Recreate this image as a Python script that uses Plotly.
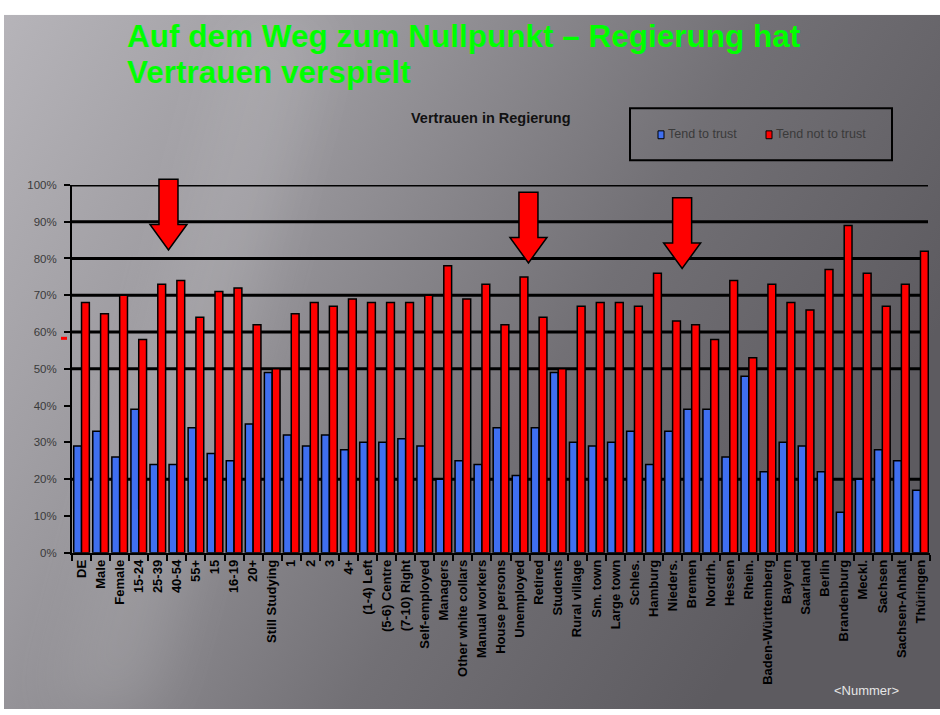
import base64
import plotly.graph_objects as go

# ---- data -----------------------------------------------------------------
CATEGORIES = [
    "DE", "Male", "Female", "15-24", "25-39", "40-54", "55+",
    "15", "16-19", "20+", "Still Studying",
    "1", "2", "3", "4+",
    "(1-4) Left", "(5-6) Centre", "(7-10) Right",
    "Self-employed", "Managers", "Other white collars", "Manual workers",
    "House persons", "Unemployed", "Retired", "Students",
    "Rural village", "Sm. town", "Large town",
    "Schles.", "Hamburg", "Nieders.", "Bremen", "Nordrh.", "Hessen", "Rhein.",
    "Baden-Württemberg", "Bayern", "Saarland", "Berlin", "Brandenburg",
    "Meckl.", "Sachsen", "Sachsen-Anhalt", "Thüringen",
]
TEND_TO_TRUST = [
    29, 33, 26, 39, 24, 24, 34,
    27, 25, 35, 49,
    32, 29, 32, 28,
    30, 30, 31,
    29, 20, 25, 24,
    34, 21, 34, 49,
    30, 29, 30,
    33, 24, 33, 39, 39, 26, 48,
    22, 30, 29, 22, 11,
    20, 28, 25, 17,
]
TEND_NOT_TO_TRUST = [
    68, 65, 70, 58, 73, 74, 64,
    71, 72, 62, 50,
    65, 68, 67, 69,
    68, 68, 68,
    70, 78, 69, 73,
    62, 75, 64, 50,
    67, 68, 68,
    67, 76, 63, 62, 58, 74, 53,
    73, 68, 66, 77, 89,
    76, 67, 73, 82,
]
SERIES = ["Tend to trust", "Tend not to trust"]
Y_TICKS = list(range(0, 101, 10))
Y_TICK_LABELS = [f"{v}%" for v in Y_TICKS]
GRID_LEVELS = [20, 50, 60, 70, 80, 90, 100]
ARROW_POSITIONS = [4.56, 23.44, 31.5]  # category index the arrows point at

TITLE_1 = "Auf dem Weg zum Nullpunkt – Regierung hat"
TITLE_2 = "Vertrauen verspielt"
CHART_TITLE = "Vertrauen in Regierung"
FOOTER = "&lt;Nummer&gt;"

# ---- page geometry (pixels) ------------------------------------------------
W, H = 940, 715
PLOT_L, PLOT_R = 72, 930
PLOT_T, PLOT_B = 182, 556
BLUE = "#3f6ff0"
RED = "#ff0000"
FONT = "Liberation Sans, Arial"


def fx(px):
    return px / W


def fy(py):
    return 1 - py / H


def cat_px(pos):
    n = len(CATEGORIES)
    return PLOT_L + (pos + 0.5) * (PLOT_R - PLOT_L) / n


# ---- slide background (grey gradient with a soft light streak) -------------
svg = (
    "<svg xmlns='http://www.w3.org/2000/svg' width='936' height='706' viewBox='0 0 936 706'>"
    "<defs>"
    "<linearGradient id='g' x1='0' y1='0' x2='1' y2='0.45'>"
    "<stop offset='0' stop-color='#b6b4b9'/>"
    "<stop offset='0.33' stop-color='#9a989d'/>"
    "<stop offset='0.68' stop-color='#727075'/>"
    "<stop offset='1' stop-color='#5d5b60'/>"
    "</linearGradient>"
    "<filter id='b' x='-50%' y='-50%' width='200%' height='200%'><feGaussianBlur stdDeviation='28'/></filter>"
    "</defs>"
    "<rect width='936' height='706' fill='url(#g)'/>"
    "<polygon points='230,0 330,0 150,706 50,706' fill='#ffffff' opacity='0.10' filter='url(#b)'/>"
    "</svg>"
)
bg_uri = "data:image/svg+xml;base64," + base64.b64encode(svg.encode()).decode()

# ---- traces ------------------------------------------------------------------
fig = go.Figure()
fig.add_trace(go.Bar(
    x=CATEGORIES, y=TEND_TO_TRUST, name=SERIES[0],
    marker=dict(color=BLUE, line=dict(color="black", width=1.5)),
    showlegend=False,
))
fig.add_trace(go.Bar(
    x=CATEGORIES, y=TEND_NOT_TO_TRUST, name=SERIES[1],
    marker=dict(color=RED, line=dict(color="black", width=1.5)),
    showlegend=False,
))

shapes = []
# horizontal rules behind the bars
for lvl in GRID_LEVELS:
    shapes.append(dict(type="line", xref="paper", yref="y",
                       x0=fx(PLOT_L), x1=fx(PLOT_R - 2), y0=lvl, y1=lvl,
                       line=dict(color="black", width=3), layer="below"))

# down arrows
for pos in ARROW_POSITIONS:
    c = cat_px(pos)
    top = PLOT_T - 9 + (pos / 31.5) * 22
    head = top + 46
    tip = head + 26
    sw, hw = 9.5, 18.5
    pts = [(c - sw, top), (c + sw, top), (c + sw, head), (c + hw, head),
           (c, tip), (c - hw, head), (c - sw, head)]
    path = "M " + " L ".join(f"{fx(x):.5f},{fy(y):.5f}" for x, y in pts) + " Z"
    shapes.append(dict(type="path", xref="paper", yref="paper", path=path,
                       fillcolor=RED, line=dict(color="black", width=1.5),
                       layer="above"))

# small red mark beside the value axis
shapes.append(dict(type="line", xref="paper", yref="paper",
                   x0=fx(61), x1=fx(67), y0=fy(338), y1=fy(338),
                   line=dict(color=RED, width=3)))

# legend frame and swatches
shapes.append(dict(type="rect", xref="paper", yref="paper",
                   x0=fx(630), x1=fx(892), y0=fy(104), y1=fy(157),
                   line=dict(color="black", width=2), fillcolor="rgba(0,0,0,0)"))
legend_items = [(SERIES[0], BLUE, 658), (SERIES[1], RED, 766)]
annotations = []
for name, color, x0 in legend_items:
    shapes.append(dict(type="rect", xref="paper", yref="paper",
                       x0=fx(x0), x1=fx(x0 + 6), y0=fy(127), y1=fy(135),
                       line=dict(color="black", width=1), fillcolor=color))
    annotations.append(dict(xref="paper", yref="paper", x=fx(x0 + 8), y=fy(130),
                            text=name, showarrow=False, xanchor="left", yanchor="middle",
                            font=dict(family=FONT, size=12.5, color="#3a3a3a")))

# slide title
annotations.append(dict(xref="paper", yref="paper", x=fx(125), y=fy(31),
                        text=f"<b>{TITLE_1}</b>", showarrow=False,
                        xanchor="left", yanchor="middle",
                        font=dict(family=FONT, size=31.5, color="#00ff00")))
annotations.append(dict(xref="paper", yref="paper", x=fx(125), y=fy(67),
                        text=f"<b>{TITLE_2}</b>", showarrow=False,
                        xanchor="left", yanchor="middle",
                        font=dict(family=FONT, size=31.5, color="#00ff00")))
# chart heading
annotations.append(dict(xref="paper", yref="paper", x=fx(491), y=fy(114),
                        text=f"<b>{CHART_TITLE}</b>", showarrow=False,
                        xanchor="center", yanchor="middle",
                        font=dict(family=FONT, size=14.5, color="#111111")))
# slide number placeholder
annotations.append(dict(xref="paper", yref="paper", x=fx(866), y=fy(696),
                        text=FOOTER, showarrow=False,
                        xanchor="center", yanchor="middle",
                        font=dict(family=FONT, size=13, color="#e6e6e6")))

fig.update_layout(
    width=W, height=H,
    margin=dict(l=0, r=0, t=0, b=0),
    paper_bgcolor="white",
    plot_bgcolor="rgba(0,0,0,0)",
    barmode="group", bargap=0.18, bargroupgap=0,
    images=[dict(source=bg_uri, xref="paper", yref="paper",
                 x=fx(4), y=fy(9), sizex=(W - 4) / W, sizey=(H - 9) / H,
                 xanchor="left", yanchor="top", sizing="stretch", layer="below")],
    shapes=shapes,
    annotations=annotations,
    xaxis=dict(
        domain=[fx(PLOT_L), fx(PLOT_R)],
        range=[-0.5, len(CATEGORIES) - 0.5],
        showgrid=False, zeroline=False,
        showline=True, linecolor="black", linewidth=2,
        ticks="outside", tickson="boundaries", ticklen=6, tickwidth=1.5, tickcolor="black",
        tickangle=-90,
        tickfont=dict(family=FONT, size=13, color="black", weight="bold"),
    ),
    yaxis=dict(
        domain=[fy(PLOT_B), fy(PLOT_T)],
        range=[0, 100],
        tickmode="array", tickvals=Y_TICKS, ticktext=Y_TICK_LABELS,
        showgrid=False, zeroline=False,
        showline=True, linecolor="black", linewidth=2,
        ticks="outside", ticklen=6, tickwidth=2, tickcolor="black",
        ticklabelstandoff=5,
        tickfont=dict(family=FONT, size=11.5, color="#3a3a3a"),
    ),
)

fig.write_html("out.html")
